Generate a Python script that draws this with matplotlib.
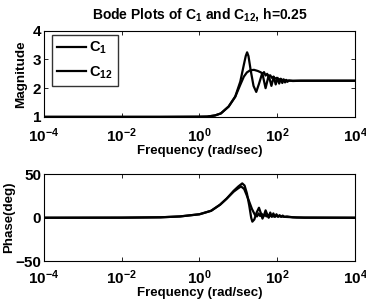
import numpy as np
import matplotlib
matplotlib.use('Agg')
import matplotlib.pyplot as plt

plt.rcParams['font.family'] = 'Liberation Sans'
plt.rcParams['font.weight'] = 'bold'
plt.rcParams['mathtext.fontset'] = 'custom'
plt.rcParams['mathtext.rm'] = 'Liberation Sans:bold'
plt.rcParams['mathtext.bf'] = 'Liberation Sans:bold'
plt.rcParams['mathtext.default'] = 'bf'

# magnitude curves (log10 of frequency, value)
mag1_logw = [-4, -1, 0, 0.2, 0.4, 0.55, 0.75, 0.92, 1.05, 1.14, 1.19, 1.225, 1.26, 1.32,
             1.39, 1.46, 1.53, 1.615, 1.70, 1.78, 1.85, 1.91, 1.96, 2.01, 2.05, 2.09,
             2.13, 2.165, 2.2, 2.23, 2.26, 2.3, 2.4, 2.6, 4]
mag1 = [1.0, 1.0, 1.005, 1.01, 1.05, 1.12, 1.36, 1.71, 2.23, 2.81, 3.12, 3.25, 3.12, 2.6,
        2.08, 1.87, 2.15, 2.53, 2.0, 2.45, 2.08, 2.4, 2.13, 2.36, 2.16, 2.33,
        2.18, 2.31, 2.2, 2.29, 2.22, 2.27, 2.25, 2.26, 2.26]

mag12_logw = [-4, -1, 0, 0.2, 0.4, 0.55, 0.75, 0.92, 1.05, 1.14, 1.22, 1.3, 1.4, 1.5,
              1.58, 1.62, 1.66, 1.7, 1.74, 1.78, 1.82, 1.86, 1.9, 1.94, 1.98, 2.03,
              2.08, 2.15, 2.3, 4]
mag12 = [1.0, 1.0, 1.005, 1.01, 1.05, 1.12, 1.36, 1.7, 2.12, 2.4, 2.55, 2.62, 2.64, 2.6,
         2.55, 2.5, 2.56, 2.44, 2.5, 2.4, 2.45, 2.36, 2.4, 2.33, 2.36, 2.3,
         2.32, 2.28, 2.26, 2.26]

# phase curves (log10 of frequency, degrees)
ph1_logw = [-4, -2, -1, -0.5, 0, 0.3, 0.53, 0.7, 0.88, 1.0, 1.1, 1.16, 1.22, 1.28, 1.33,
            1.36, 1.41, 1.47, 1.53, 1.58, 1.62, 1.66, 1.70, 1.75, 1.78, 1.82, 1.86,
            1.9, 1.94, 1.98, 2.02, 2.06, 2.1, 2.14, 2.18, 2.25, 2.4, 2.7, 4]
ph1 = [0, 0.1, 0.5, 1.5, 4, 8, 15, 22, 31, 36, 39.5, 37, 28, 14, 0,
       -4.5, -2, 6, 11.5, 5, -1, 3, 8.5, 3, 0, 6, 1,
       5, 1, 4, 1, 3, 1, 2.5, 1, 1.5, 0.5, 0, 0]

ph12_logw = [-4, -2, -1, -0.5, 0, 0.3, 0.53, 0.7, 0.88, 1.0, 1.07, 1.15, 1.25, 1.35,
             1.43, 1.48, 1.52, 1.56, 1.6, 1.64, 1.68, 1.72, 1.76, 1.8, 1.85, 1.9,
             2.0, 2.2, 2.5, 4]
ph12 = [0, 0.1, 0.5, 1.5, 4, 8, 15, 22, 30, 34, 36, 33, 22, 10,
        3, 1.5, 5, 2, 4.5, 1.5, 4, 1.5, 3.5, 1.5, 3, 1.5,
        2, 1, 0.3, 0]

xticks = [1e-4, 1e-2, 1e0, 1e2, 1e4]
xticklabels = ['$10^{-4}$', '$10^{-2}$', '$10^{0}$', '$10^{2}$', '$10^{4}$']

fig = plt.figure(figsize=(3.66, 3.02), dpi=100)
ax1 = fig.add_axes([0.120, 0.613, 0.850, 0.285])
ax2 = fig.add_axes([0.120, 0.135, 0.850, 0.288])

ax1.semilogx(10**np.array(mag1_logw), mag1, 'k', lw=1.6, label='C$_1$')
ax1.semilogx(10**np.array(mag12_logw), mag12, 'k', lw=1.6, label='C$_{12}$')
ax1.set_ylim(1, 4)
ax1.set_yticks([1, 2, 3, 4])
ax1.set_ylabel('Magnitude', fontsize=9.7, fontweight='bold', labelpad=4)
ax1.set_xlabel('Frequency (rad/sec)', fontsize=9.5, fontweight='bold', labelpad=0)
ax1.set_title('Bode Plots of C$_1$ and C$_{12}$, h=0.25', fontsize=10,
              fontweight='bold', pad=9)
leg = ax1.legend(loc='upper left', bbox_to_anchor=(0.026, 0.955), fontsize=10.5,
                 frameon=True, fancybox=False, edgecolor='k', handlelength=2.0,
                 handletextpad=0.2, borderaxespad=0, labelspacing=0.55,
                 borderpad=0.35)
leg.get_frame().set_linewidth(1.0)

ax2.semilogx(10**np.array(ph1_logw), ph1, 'k', lw=1.6)
ax2.semilogx(10**np.array(ph12_logw), ph12, 'k', lw=1.6)
ax2.set_ylim(-50, 50)
ax2.set_yticks([-50, 0, 50])
ax2.set_ylabel('Phase(deg)', fontsize=9.6, fontweight='bold', labelpad=0)
ax2.set_xlabel('Frequency (rad/sec)', fontsize=9.5, fontweight='bold', labelpad=0)

for ax in (ax1, ax2):
    ax.set_xlim(1e-4, 1e4)
    ax.set_xticks(xticks)
    ax.set_xticklabels(xticklabels)
    ax.minorticks_off()
    ax.tick_params(direction='in', top=True, right=True, length=3, width=0.6,
                   labelsize=11, pad=2)
    for lab in ax.get_yticklabels():
        lab.set_fontweight('bold')
    for s in ax.spines.values():
        s.set_linewidth(0.8)
ax1.tick_params(axis='x', pad=7)
ax2.tick_params(axis='x', pad=5)

fig.savefig('out.png', dpi=100)
